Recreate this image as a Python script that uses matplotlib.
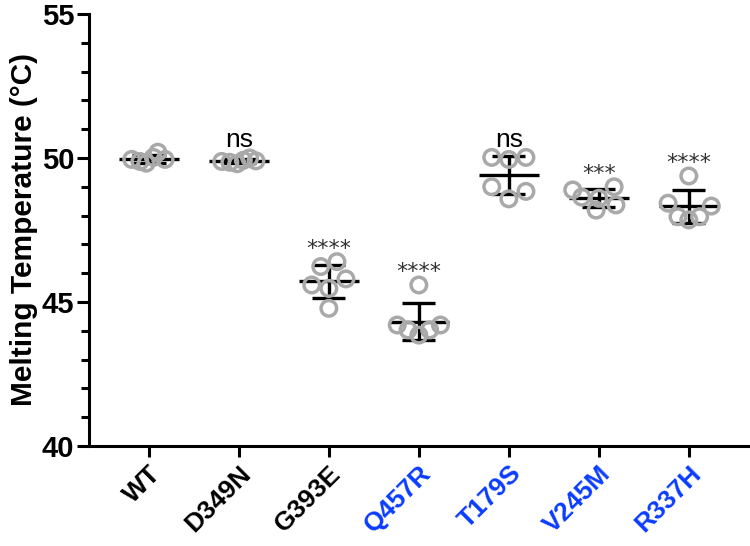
import numpy as np
import matplotlib
matplotlib.use('Agg')
import matplotlib.pyplot as plt
from matplotlib.ticker import MultipleLocator

plt.rcParams['font.family'] = ['Liberation Sans', 'DejaVu Sans']

# variants on the x axis and the colour of each label
variants = ['WT', 'D349N', 'G393E', 'Q457R', 'T179S', 'V245M', 'R337H']
label_colors = ['black', 'black', 'black', '#0a3cff', '#0a3cff', '#0a3cff', '#0a3cff']

# melting temperatures of each replicate (deg C)
wt = [49.95, 49.88, 49.82, 50.02, 50.2, 49.95]
d349n = [49.88, 49.85, 49.8, 49.92, 50.0, 49.9]
g393e = [45.59, 46.23, 45.47, 44.78, 46.40, 45.80]
q457r = [44.20, 44.03, 43.85, 45.59, 44.03, 44.20]
t179s = [50.02, 49.0, 49.95, 48.58, 50.02, 48.84]
v245m = [48.89, 48.64, 48.19, 48.60, 49.0, 48.37]
r337h = [48.43, 47.96, 47.85, 49.375, 47.96, 48.33]
groups = [wt, d349n, g393e, q457r, t179s, v245m, r337h]

# significance vs WT
signif = ['', 'ns', '****', '****', 'ns', '***', '****']

# horizontal spread of the replicates inside each column
jitter = [
    [-0.19, -0.1, -0.03, 0.05, 0.1, 0.18],
    [-0.19, -0.1, -0.02, 0.05, 0.12, 0.19],
    [-0.19, -0.09, 0.0, 0.0, 0.09, 0.19],
    [-0.24, -0.12, 0.0, 0.0, 0.12, 0.24],
    [-0.19, -0.19, 0.0, 0.0, 0.19, 0.19],
    [-0.29, -0.19, -0.03, 0.0, 0.17, 0.19],
    [-0.23, -0.12, 0.0, 0.0, 0.12, 0.25],
]

fig = plt.figure(figsize=(7.5, 5.46), dpi=100)
ax = fig.add_axes([0.1193, 0.1832, 0.8807, 0.7912])

for i, vals in enumerate(groups):
    vals = np.array(vals)
    m = vals.mean()
    sd = vals.std(ddof=1)
    # mean line and SD bar
    ax.plot([i - 0.335, i + 0.335], [m, m], color='black', lw=2.4, solid_capstyle='butt', zorder=2)
    ax.plot([i, i], [m - sd, m + sd], color='black', lw=2.4, solid_capstyle='butt', zorder=2)
    for y in (m - sd, m + sd):
        ax.plot([i - 0.185, i + 0.185], [y, y], color='black', lw=2.4, solid_capstyle='butt', zorder=2)
    ax.scatter(i + np.array(jitter[i]), vals, s=125, facecolors='none',
               edgecolors='#a9a9a9', linewidths=2.5, zorder=3)
    if signif[i] == 'ns':
        ax.text(i, vals.max() + 0.62, 'ns', ha='center', va='center', fontsize=19)
    elif signif[i]:
        ax.text(i, vals.max() + 0.45, signif[i], ha='center', va='center',
                fontsize=16, color='#333333', family='DejaVu Sans')

ax.set_xlim(-0.66, 6.68)
ax.set_ylim(40, 55)
ax.yaxis.set_major_locator(MultipleLocator(5))
ax.yaxis.set_minor_locator(MultipleLocator(1))
ax.set_xticks(range(len(variants)))
ax.set_xticklabels(variants, rotation=45, ha='right', va='top', rotation_mode='anchor',
                   fontsize=19, fontweight='bold')
for lbl, c in zip(ax.get_xticklabels(), label_colors):
    lbl.set_color(c)
for lbl in ax.get_yticklabels():
    lbl.set_fontweight('bold')

ax.tick_params(axis='y', which='major', labelsize=21, length=9, width=2.2, pad=2)
ax.tick_params(axis='y', which='minor', length=6, width=2.2)
ax.tick_params(axis='x', length=8, width=2.2, pad=3)

ax.spines['top'].set_visible(False)
ax.spines['right'].set_visible(False)
ax.spines['left'].set_linewidth(2.2)
ax.spines['bottom'].set_linewidth(2.2)

ax.set_ylabel('Melting Temperature (°C)', fontsize=21.5, fontweight='bold', labelpad=3)

fig.savefig('out.png', dpi=100)
